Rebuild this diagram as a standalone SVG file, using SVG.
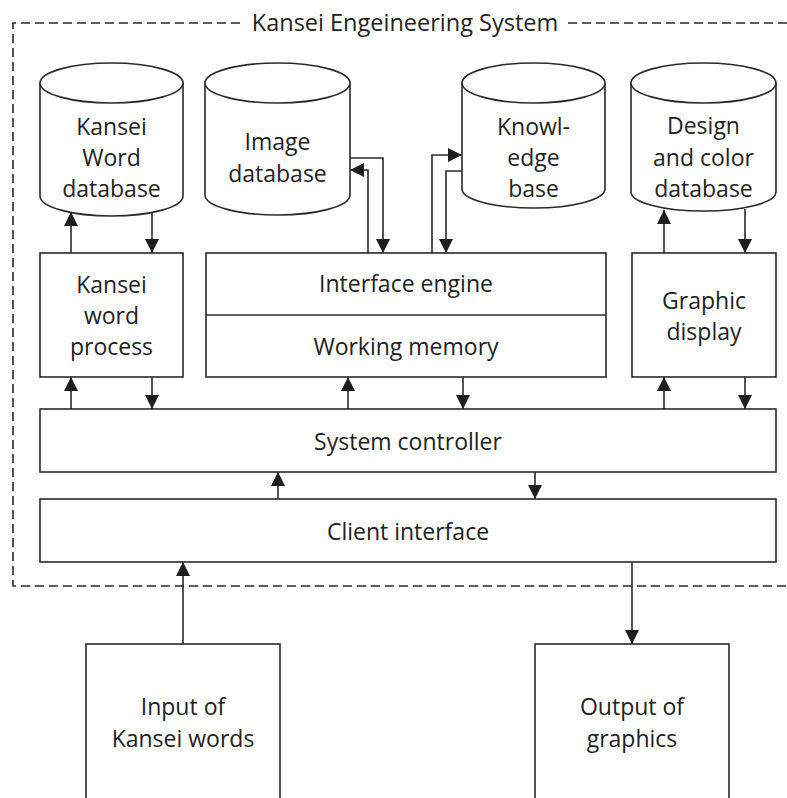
<svg xmlns="http://www.w3.org/2000/svg" width="787" height="798" viewBox="0 0 787 798">
  <style>
    .shape { fill: #ffffff; stroke: #2a2a2a; stroke-width: 1.6; }
    .line { fill: none; stroke: #2a2a2a; stroke-width: 1.6; }
    .frame { fill: none; stroke: #2a2a2a; stroke-width: 1.6; stroke-dasharray: 9 5; }
    text { font-family: "Open Sans", "Noto Sans", "DejaVu Sans", sans-serif; font-size: 23px; fill: #222222; text-anchor: middle; }
    .title { font-size: 23.5px; }
  </style>
  <defs>
    <marker id="arrow" viewBox="0 0 14 14" refX="14" refY="7" markerWidth="14" markerHeight="14" markerUnits="userSpaceOnUse" orient="auto">
      <path d="M0,0 L14,7 L0,14 Z" fill="#1e1e1e"/>
    </marker>
  </defs>

  <rect width="787" height="798" fill="#ffffff"/>

  <!-- system boundary -->
  <g id="boundary">
    <path class="frame" d="M240,23 H13 V586 H790"/>
    <path class="frame" d="M568,23 H790"/>
    <text class="title" x="405" y="31">Kansei Engeineering System</text>
  </g>

  <!-- databases -->
  <g id="kansei-word-db">
    <path class="shape" d="M40,83 V196 A71.5,20 0 0 0 183,196 V83"/>
    <ellipse class="shape" cx="111.5" cy="83" rx="71.5" ry="20"/>
    <text x="111.5" y="135">Kansei</text>
    <text x="111.5" y="166">Word</text>
    <text x="111.5" y="197">database</text>
  </g>
  <g id="image-db">
    <path class="shape" d="M205,83 V195 A72.5,20 0 0 0 350,195 V83"/>
    <ellipse class="shape" cx="277.5" cy="83" rx="72.5" ry="20"/>
    <text x="277.5" y="150">Image</text>
    <text x="277.5" y="182">database</text>
  </g>
  <g id="knowledge-base">
    <path class="shape" d="M462,83 V189 A71.5,19 0 0 0 605,189 V83"/>
    <ellipse class="shape" cx="533.5" cy="83" rx="71.5" ry="20"/>
    <text x="533.5" y="135">Knowl-</text>
    <text x="533.5" y="166">edge</text>
    <text x="533.5" y="197">base</text>
  </g>
  <g id="design-color-db">
    <path class="shape" d="M631,83 V192 A72.5,19 0 0 0 776,192 V83"/>
    <ellipse class="shape" cx="703.5" cy="83" rx="72.5" ry="20"/>
    <text x="703.5" y="134">Design</text>
    <text x="703.5" y="166">and color</text>
    <text x="703.5" y="197">database</text>
  </g>

  <!-- processing blocks -->
  <g id="kansei-word-process">
    <rect class="shape" x="40" y="253" width="143" height="124"/>
    <text x="111.5" y="293">Kansei</text>
    <text x="111.5" y="324">word</text>
    <text x="111.5" y="355">process</text>
  </g>
  <g id="interface-engine">
    <rect class="shape" x="206" y="253" width="400" height="124"/>
    <line class="line" x1="206" y1="315" x2="606" y2="315"/>
    <text x="406" y="292">Interface engine</text>
    <text x="406" y="355">Working memory</text>
  </g>
  <g id="graphic-display">
    <rect class="shape" x="632" y="253" width="144" height="124"/>
    <text x="704" y="309">Graphic</text>
    <text x="704" y="340">display</text>
  </g>
  <g id="system-controller">
    <rect class="shape" x="40" y="409" width="736" height="63"/>
    <text x="408" y="450">System controller</text>
  </g>
  <g id="client-interface">
    <rect class="shape" x="40" y="499" width="736" height="63"/>
    <text x="408" y="540">Client interface</text>
  </g>

  <!-- external blocks -->
  <g id="input-kansei-words">
    <rect class="shape" x="86" y="644" width="194" height="170"/>
    <text x="183" y="715">Input of</text>
    <text x="183" y="747">Kansei words</text>
  </g>
  <g id="output-graphics">
    <rect class="shape" x="535" y="644" width="194" height="170"/>
    <text x="632" y="715">Output of</text>
    <text x="632" y="747">graphics</text>
  </g>

  <!-- connectors -->
  <g id="connectors">
    <path class="line" marker-end="url(#arrow)" d="M71,253 V212"/>
    <path class="line" marker-end="url(#arrow)" d="M152,212 V253"/>
    <path class="line" marker-end="url(#arrow)" d="M71,409 V377"/>
    <path class="line" marker-end="url(#arrow)" d="M152,377 V409"/>

    <path class="line" marker-end="url(#arrow)" d="M350,158 H383 V253"/>
    <path class="line" marker-end="url(#arrow)" d="M368,253 V170 H350"/>
    <path class="line" marker-end="url(#arrow)" d="M432,253 V155 H462"/>
    <path class="line" marker-end="url(#arrow)" d="M462,171 H446 V253"/>

    <path class="line" marker-end="url(#arrow)" d="M348,409 V377"/>
    <path class="line" marker-end="url(#arrow)" d="M463,377 V409"/>

    <path class="line" marker-end="url(#arrow)" d="M664,253 V210"/>
    <path class="line" marker-end="url(#arrow)" d="M745,209 V253"/>
    <path class="line" marker-end="url(#arrow)" d="M664,409 V377"/>
    <path class="line" marker-end="url(#arrow)" d="M745,377 V409"/>

    <path class="line" marker-end="url(#arrow)" d="M278,499 V472"/>
    <path class="line" marker-end="url(#arrow)" d="M535,472 V499"/>

    <path class="line" marker-end="url(#arrow)" d="M183,644 V562"/>
    <path class="line" marker-end="url(#arrow)" d="M632,562 V644"/>
  </g>
</svg>
